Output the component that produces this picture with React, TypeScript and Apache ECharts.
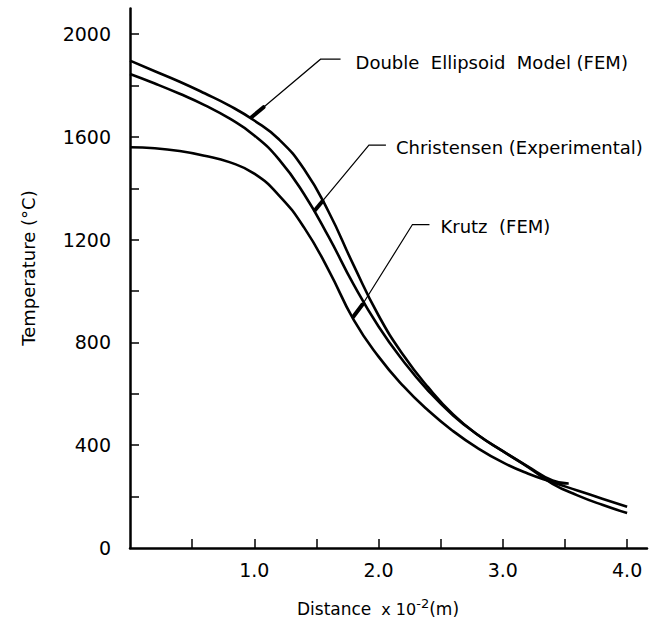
import React, { useEffect, useRef } from "react";
import * as echarts from "echarts";

// ---- data (distance x10^-2 m, temperature °C) ----
const fullX = [0, 0.2, 0.4, 0.6, 0.8, 1.0, 1.2, 1.4, 1.6, 1.8, 2.0, 2.2, 2.4, 2.6, 2.8, 3.0, 3.2, 3.4, 3.6, 3.8, 4.0];
const deT = [1897, 1856, 1815, 1770, 1722, 1664, 1590, 1475, 1307, 1100, 905, 750, 625, 520, 440, 377, 316, 250, 205, 168, 136];
const krT = [1560, 1556, 1545, 1527, 1502, 1457, 1372, 1248, 1080, 888, 745, 630, 535, 455, 388, 333, 290, 256, 224, 192, 161];

const chX = [0, 0.2, 0.4, 0.6, 0.8, 1.0, 1.2, 1.4, 1.6, 1.8, 2.0, 2.2, 2.4, 2.6, 2.8, 3.0, 3.2, 3.4, 3.53];
const chT = [1845, 1808, 1768, 1724, 1672, 1606, 1512, 1378, 1210, 1025, 862, 727, 612, 516, 440, 377, 318, 263, 251];

const xTicks = [0.5, 1.0, 1.5, 2.0, 2.5, 3.0, 3.5, 4.0];
const xLabels = [1.0, 2.0, 3.0, 4.0];
const yTicks = [200, 400, 600, 800, 1000, 1200, 1400, 1600, 1800, 2000];
const yLabels = [0, 400, 800, 1200, 1600, 2000];

const seriesNames = ["Double Ellipsoid Model (FEM)", "Christensen (Experimental)", "Krutz (FEM)"];
const annotLabels = ["Double  Ellipsoid  Model (FEM)", "Christensen (Experimental)", "Krutz  (FEM)"];
// annotation tip anchors on the curves (data space)
const annotTips: [number, number][] = [
  [0.97, 1673],
  [1.48, 1311],
  [1.79, 897],
];

const FONT = '"DejaVu Sans", sans-serif';

function pairs(xs: number[], ys: number[]) {
  return xs.map((x, i) => [x, ys[i]]);
}

export default function App() {
  const ref = useRef<HTMLDivElement>(null);
  useEffect(() => {
    if (!ref.current) return;
    const chart = echarts.init(ref.current, null, { renderer: "svg" });
    const lineStyle = { color: "#000", width: 2.6 };
    const mk = (name: string, xs: number[], ys: number[]) => ({
      name,
      type: "line",
      data: pairs(xs, ys),
      showSymbol: false,
      symbol: "none",
      smooth: 0.5,
      lineStyle,
      silent: true,
    });
    chart.setOption({
      animation: false,
      backgroundColor: "#fff",
      grid: { left: 130, right: 8, top: 8.5, bottom: 72, containLabel: false },
      xAxis: {
        type: "value",
        min: 0,
        max: 4.16,
        axisLine: { show: true, lineStyle: { color: "#000", width: 2.5 } },
        axisTick: { show: true, inside: true, length: 9, lineStyle: { color: "#000", width: 1.5 }, customValues: xTicks },
        axisLabel: {
          show: true,
          customValues: xLabels,
          formatter: (v: number) => v.toFixed(1),
          color: "#000",
          fontFamily: FONT,
          fontSize: 19,
          margin: 12,
        },
        splitLine: { show: false },
      },
      yAxis: {
        type: "value",
        min: 0,
        max: 2100,
        axisLine: { show: true, lineStyle: { color: "#000", width: 2.5 } },
        axisTick: { show: true, inside: true, length: 9, lineStyle: { color: "#000", width: 1.5 }, customValues: yTicks },
        axisLabel: {
          show: true,
          customValues: yLabels,
          formatter: (v: number) => String(v),
          color: "#000",
          fontFamily: FONT,
          fontSize: 19,
          margin: 19,
        },
        splitLine: { show: false },
      },
      series: [mk(seriesNames[0], fullX, deT), mk(seriesNames[1], chX, chT), mk(seriesNames[2], fullX, krT)],
    });

    // leader geometry, pixel offsets from the tip
    const offs = [
      { blob: [13, -11], elbow: [70, -59], end: [90, -59], text: [105, -56] },
      { blob: [8.5, -10], elbow: [55, -66], end: [72, -66], text: [82, -64] },
      { blob: [10, -13], elbow: [60, -93], end: [77, -93], text: [88, -91] },
    ];
    const graphics: any[] = [];
    annotTips.forEach((tip, i) => {
      const p = chart.convertToPixel({ gridIndex: 0 }, tip) as number[];
      const o = offs[i];
      graphics.push({
        type: "polyline",
        silent: true,
        shape: { points: [[p[0] + o.blob[0], p[1] + o.blob[1]], [p[0] + o.elbow[0], p[1] + o.elbow[1]], [p[0] + o.end[0], p[1] + o.end[1]]] },
        style: { stroke: "#000", lineWidth: 1.2, fill: null },
      });
      graphics.push({
        type: "line",
        silent: true,
        shape: { x1: p[0] + 1, y1: p[1] - 1, x2: p[0] + o.blob[0], y2: p[1] + o.blob[1] },
        style: { stroke: "#000", lineWidth: 4, lineCap: "round" },
      });
      graphics.push({
        type: "text",
        silent: true,
        style: {
          text: annotLabels[i],
          x: p[0] + o.text[0],
          y: p[1] + o.text[1],
          fill: "#000",
          font: `18px ${FONT}`,
          align: "left",
          verticalAlign: "middle",
        },
      });
    });
    // axis names
    graphics.push({
      type: "text",
      silent: true,
      x: 28,
      y: 268,
      rotation: Math.PI / 2,
      style: {
        text: "Temperature (°C)",
        x: 0,
        y: 0,
        fill: "#000",
        font: `18px ${FONT}`,
        align: "center",
        verticalAlign: "middle",
      },
    });
    graphics.push({
      type: "text",
      silent: true,
      style: {
        text: "{a|Distance}   {b|x 10}{s|-2}{a|(m)}",
        x: 378,
        y: 609,
        align: "center",
        verticalAlign: "middle",
        fill: "#000",
        rich: {
          a: { fontFamily: FONT, fontSize: 17, lineHeight: 24, fill: "#000" },
          b: { fontFamily: FONT, fontSize: 16, lineHeight: 24, fill: "#000" },
          s: { fontFamily: FONT, fontSize: 13, lineHeight: 13, verticalAlign: "top", fill: "#000" },
        },
      },
    });
    chart.setOption({ graphic: graphics });
    return () => chart.dispose();
  }, []);
  return <div ref={ref} style={{ position: "fixed", left: 0, top: 0, width: 655, height: 620, background: "#fff" }} />;
}
